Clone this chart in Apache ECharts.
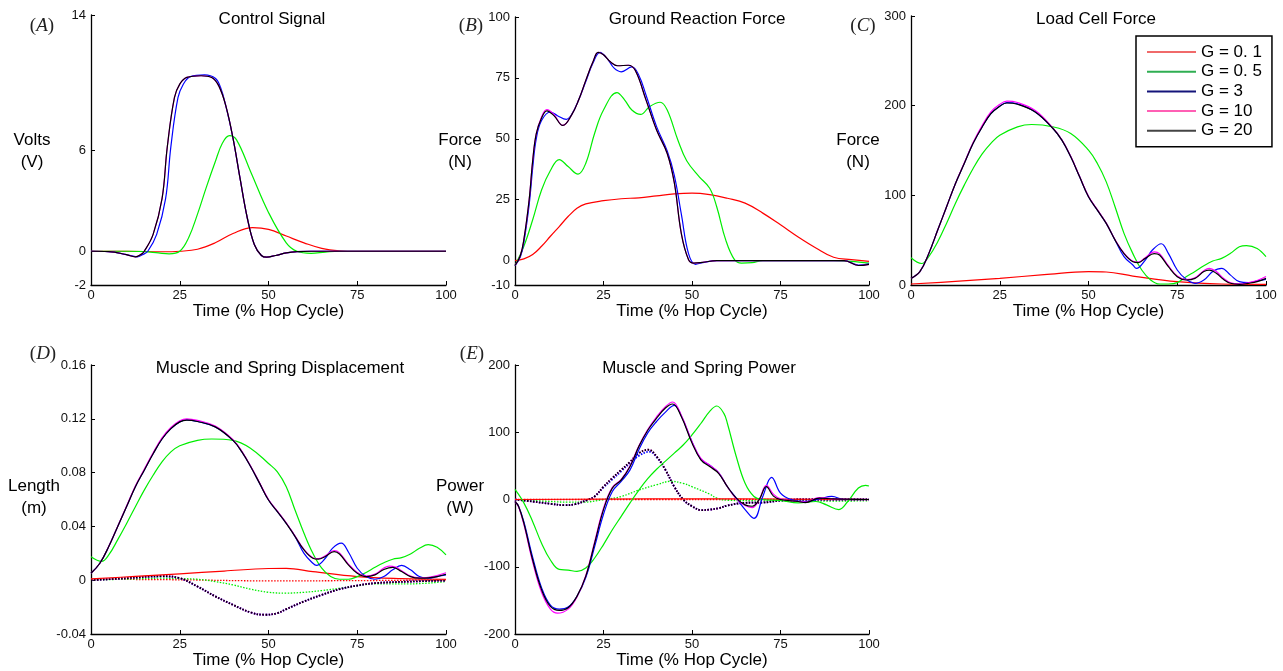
<!DOCTYPE html>
<html>
<head>
<meta charset="utf-8">
<script src="https://cdn.jsdelivr.net/npm/echarts@6/dist/echarts.min.js"></script>
<style>
html,body{margin:0;padding:0;background:#fff;}
#chart{width:1283px;height:671px;}
</style>
</head>
<body>
<div id="chart"></div>
<script>
// ---------------- DATA ----------------
const gNames = ['G = 0. 1', 'G = 0. 5', 'G = 3', 'G = 10', 'G = 20'];
const xTicks = [0, 25, 50, 75, 100];
const aTicks = [-2, 0, 6, 14];
const bTicks = [-10, 0, 25, 50, 75, 100];
const cTicks = [0, 100, 200, 300];
const dTicks = [-0.04, 0, 0.04, 0.08, 0.12, 0.16];
const eTicks = [-200, -100, 0, 100, 200];

// (A) Control Signal  [time %, volts]
const aRed = [[0,0],[10,0],[20,-0.03],[25,0],[30,0.12],[35,0.5],[40,1.05],[45.5,1.4],[50,1.3],[55,0.9],[60,0.5],[65,0.17],[70,0.03],[75,0],[100,0]];
const aGreen = [[0,0],[10,0],[15,-0.02],[19,-0.1],[22,-0.15],[25,0],[27.5,0.8],[30,2.2],[32.5,3.8],[35,5.3],[37,6.4],[39,6.85],[41,6.6],[45,4.7],[50,2.3],[55,0.5],[58,0],[62,-0.12],[66,-0.05],[70,0],[100,0]];
const aBlue = [[0,0],[5,-0.02],[10,-0.2],[13,-0.33],[14.5,-0.2],[16,0],[18.5,1.0],[21,3.1],[22.5,6.2],[24.5,9.1],[26,9.9],[28,10.35],[32,10.45],[35,10.25],[36.5,9.7],[38,8.6],[40,6.7],[42,4.3],[44,2.0],[46,0.4],[48,-0.25],[49.5,-0.35],[52,-0.25],[55,-0.1],[58,-0.02],[62,0],[100,0]];
const aMagenta = [[0,0],[5,-0.02],[10,-0.2],[12.5,-0.33],[14,-0.2],[15,0],[17.5,1.0],[20,3.1],[21.5,6.2],[23.5,9.1],[25,9.9],[27,10.3],[31,10.4],[34,10.3],[36,9.8],[38,8.6],[40,6.7],[42,4.3],[44,2.0],[46,0.4],[48,-0.25],[49.5,-0.35],[52,-0.25],[55,-0.1],[58,-0.02],[62,0],[100,0]];
const aBlack = [[0,0],[5,-0.02],[10,-0.2],[12.5,-0.33],[14,-0.2],[15,0],[17.5,1.0],[20,3.1],[21.5,6.2],[23.5,9.1],[25,9.9],[27,10.3],[31,10.4],[34,10.3],[36,9.8],[38,8.6],[40,6.7],[42,4.3],[44,2.0],[46,0.4],[48,-0.25],[49.5,-0.35],[52,-0.25],[55,-0.1],[58,-0.02],[62,0],[100,0]];

// (B) Ground Reaction Force  [time %, N]
const bRed = [[0,0],[2.5,0.7],[5,2.5],[7.5,5.9],[10,10],[12.5,14],[15,18.1],[17.5,21.5],[20,23.3],[25,24.6],[30,25.4],[35,25.8],[40,26.6],[45,27.4],[50,27.7],[55,27.1],[60,25.6],[65,23.6],[70,19.5],[75,14.7],[80,9.7],[85,5.2],[90,1.4],[95,0.4],[100,-0.3]];
const bGreen = [[0,-2],[2.5,5.9],[5,16.8],[7.5,29],[10,37],[12.5,41.5],[15,38.6],[17.8,35.5],[20,40],[22.5,52.3],[25,61.8],[28.8,69],[31,65.9],[33,61.8],[35.5,60],[38,63.2],[41,65],[43,61.8],[46,49.5],[48.5,41],[52,34.5],[55,29.7],[57,22],[59.5,8.6],[62,0.4],[64,-1],[67,-0.8],[70,0],[90,0],[95,-0.3],[100,-1]];
const bBlue = [[0,-2],[1.5,1.5],[2.5,7.5],[4,23],[5,38],[6,50],[7.5,57.5],[10,61],[12,59.5],[14.5,58],[16,60],[18,66],[20,73.5],[22,81],[24,85.5],[26,83],[28,79],[30,77.5],[33,79.5],[35,76],[37,68],[40,55],[43,45],[45,35],[47,19],[49,3],[51,-1.5],[53,-0.8],[57,0],[93,0],[97,-1.8],[100,-1.3]];
const bMagenta = [[0,-2],[1.5,2],[2.5,8.6],[4,25],[5,41],[6,52],[7.5,59],[9,62],[11,60],[13.5,55.5],[16,59.8],[18,66],[20,74],[22,81.5],[23.5,85.5],[25,84.5],[27,81.5],[29,80],[32,80.2],[34,78],[37,66],[40,53.6],[43,44],[45,32],[47,11],[49,0.5],[50.5,-1],[53,-0.7],[57,0],[93,0],[97,-2],[100,-1.5]];
const bBlack = [[0,-2],[1.5,2],[2.5,8.6],[4,25],[5,41],[6,52],[7.5,58.5],[9,61.5],[11,59.5],[13.5,55.5],[16,59.8],[18,66],[20,74],[22,81.5],[23.5,85.5],[25,84.5],[27,81.5],[29,80],[32,80.2],[34,78],[37,66],[40,53.6],[43,44],[45,32],[47,11],[49,0.5],[50.5,-1],[53,-0.7],[57,0],[93,0],[97,-2],[100,-1.5]];

// (C) Load Cell Force  [time %, N]
const cRed = [[0,1.1],[12.5,4],[25,7.4],[37.5,11.5],[50,14.9],[55,14.5],[62.5,10],[75,3.7],[87.5,1.1],[100,0.7]];
const cGreen = [[0,30.4],[3,24],[5,31.6],[7.5,48],[10,68.7],[12.5,91],[15,111.4],[17.5,130],[20,146],[22.5,158],[25,167],[30,176.4],[34,179],[40,176.4],[45,169],[50,150.4],[52.5,135.5],[55,115],[57.5,87],[60,57.6],[62.5,35],[65,16.7],[67.5,5.6],[70,1.1],[72.5,1.1],[75,2.6],[77.5,9.3],[80,15],[82.5,21.5],[85,26.7],[87.5,29.7],[90,35.3],[92.5,42.7],[94.5,44],[97.5,40.8],[100,31.6]];
const cBlue = [[0,7.4],[2.5,15],[5,35],[7.5,61],[10,87],[12.5,113],[15,135.5],[17.5,158],[20,176],[22.5,191],[25,199.4],[27,203.5],[30,202],[35,193],[40,174.5],[42.5,161.5],[45,143],[47.5,120.7],[50,98.4],[52.5,83.5],[55,68.7],[57.5,50],[60,31.6],[62.5,22.3],[63.5,18.5],[66,27.8],[68,39],[70.5,46],[72.5,35.3],[75,16.7],[77.5,6.3],[80,1.9],[82.5,5.6],[85,15],[87.5,18.6],[90,11],[92.5,3.7],[95,2.6],[97.5,4.5],[100,6.3]];
const cMagenta = [[0,7.4],[2.5,15],[5,35],[7.5,61],[10,87],[12.5,113],[15,136],[17.5,159],[20,177.5],[22.5,193],[25,201.5],[27,205],[30,203.5],[35,194.5],[40,175],[42.5,162],[45,143.5],[47.5,121],[50,99],[52.5,84],[55,69],[57.5,50.5],[60,35.5],[62.5,26.5],[64,25.5],[66,30.5],[68.5,37],[70,35],[72.5,21.5],[75,10],[77.5,6],[80,8],[82.5,16],[84,18.6],[86,15],[88,7.5],[90,2.5],[92.5,1.2],[95,2.5],[97.5,5],[100,9.5]];
const cBlack = [[0,7.4],[2.5,15],[5,35],[7.5,61],[10,87],[12.5,113],[15,135.5],[17.5,158],[20,176],[22.5,191],[25,199.4],[27,203],[30,201.6],[35,193],[40,174.5],[42.5,161.5],[45,143],[47.5,120.7],[50,98.4],[52.5,83.5],[55,68.7],[57.5,50],[60,35],[62.5,26],[64,25],[66,29.7],[68.5,35],[70,33.4],[72.5,20.4],[75,9.3],[77.5,5.6],[80,7.4],[82.5,15],[84,16.7],[86,13],[88,6.3],[90,1.9],[92.5,0.7],[95,1.9],[97.5,3.7],[100,7.4]];

// (D) Muscle (solid) and Spring (dotted) Displacement  [time %, m]
const dRed = [[0,0.001],[12.5,0.0028],[25,0.0047],[37.5,0.0068],[50,0.0087],[55,0.0088],[62.5,0.0064],[75,0.0027],[87.5,0.0012],[100,0.0007]];
const dGreen = [[0,0.0175],[3,0.014],[5,0.0188],[7.5,0.03],[10,0.042],[12.5,0.0546],[15,0.067],[17.5,0.078],[20,0.088],[22.5,0.0954],[25,0.1],[30,0.104],[34,0.105],[40,0.104],[45,0.098],[50,0.0868],[52.5,0.0806],[55,0.0695],[57.5,0.052],[60,0.0349],[62.5,0.02],[65,0.0089],[67.5,0.0027],[70,0.0007],[72.5,0.0007],[75,0.0027],[77.5,0.0057],[80,0.0096],[82.5,0.013],[85,0.0156],[87.5,0.0168],[90,0.0195],[92.5,0.0237],[95,0.0265],[97.5,0.0245],[100,0.0188]];
const dBlue = [[0,0.0052],[2.5,0.0126],[5,0.025],[7.5,0.0398],[10,0.0546],[12.5,0.0695],[15,0.0818],[17.5,0.094],[20,0.105],[22.5,0.1127],[25,0.1177],[27,0.1192],[30,0.118],[35,0.114],[40,0.104],[42.5,0.0954],[45,0.0843],[47.5,0.072],[50,0.0596],[52.5,0.051],[55,0.0423],[57.5,0.0324],[60,0.02],[62.5,0.0126],[63.5,0.011],[66,0.0163],[68,0.0237],[70.5,0.0275],[72.5,0.021],[75,0.0089],[77.5,0.0027],[80,0.0007],[82.5,0.0027],[85,0.0077],[87.5,0.011],[90,0.0077],[92.5,0.0027],[95,0.0015],[97.5,0.0027],[100,0.004]];
const dMagenta = [[0,0.0052],[2.5,0.0126],[5,0.0252],[7.5,0.04],[10,0.055],[12.5,0.07],[15,0.0825],[17.5,0.0948],[20,0.1058],[22.5,0.1135],[25,0.1185],[27,0.12],[30,0.1188],[35,0.1146],[40,0.1045],[42.5,0.0958],[45,0.0847],[47.5,0.0724],[50,0.06],[52.5,0.0514],[55,0.0427],[57.5,0.0328],[60,0.0229],[62.5,0.0167],[64,0.016],[66,0.0182],[68.5,0.022],[70,0.0203],[72.5,0.012],[75,0.0058],[77.5,0.003],[80,0.0045],[82.5,0.009],[84,0.0105],[86,0.0095],[87.5,0.007],[90,0.003],[92.5,0.0018],[95,0.0022],[97.5,0.0035],[100,0.0055]];
const dBlack = [[0,0.0052],[2.5,0.0126],[5,0.025],[7.5,0.0398],[10,0.0546],[12.5,0.0695],[15,0.0818],[17.5,0.094],[20,0.105],[22.5,0.1127],[25,0.1177],[27,0.119],[30,0.118],[35,0.114],[40,0.104],[42.5,0.0954],[45,0.0843],[47.5,0.072],[50,0.0596],[52.5,0.051],[55,0.0423],[57.5,0.0324],[60,0.0225],[62.5,0.0163],[64,0.0156],[66,0.0176],[68.5,0.0213],[70,0.0195],[72.5,0.0114],[75,0.0052],[77.5,0.0027],[80,0.004],[82.5,0.008],[85,0.0096],[87.5,0.0064],[90,0.0027],[92.5,0.0015],[95,0.0017],[97.5,0.0027],[100,0.0044]];
const dRedSpring = [[0,0.0007],[25,0.0003],[50,-0.0005],[75,-0.0003],[100,0.0002]];
const dGreenSpring = [[0,0],[10,0.0008],[20,0.0015],[25,0.0012],[30,0.0007],[35,-0.001],[40,-0.0035],[45,-0.0067],[50,-0.009],[55,-0.0096],[60,-0.009],[65,-0.0077],[70,-0.006],[75,-0.0042],[80,-0.0027],[90,-0.0027],[100,-0.001]];
const dBlueSpring = [[0,0],[10,0.0015],[20,0.0028],[25,0.0014],[30,-0.0047],[35,-0.012],[40,-0.0183],[45,-0.024],[49,-0.0257],[52.5,-0.0245],[55,-0.0215],[60,-0.0158],[65,-0.0109],[70,-0.0067],[75,-0.004],[80,-0.0022],[90,-0.001],[100,-0.0002]];
const dMagentaSpring = [[0,0],[10,0.0015],[20,0.003],[25,0.0015],[30,-0.0047],[35,-0.012],[40,-0.0183],[45,-0.024],[49,-0.0257],[52.5,-0.0245],[55,-0.0215],[60,-0.0158],[65,-0.0109],[70,-0.0067],[75,-0.004],[80,-0.0022],[90,-0.001],[100,-0.0002]];
const dBlackSpring = [[0,0],[10,0.0015],[20,0.003],[25,0.0015],[30,-0.0047],[35,-0.012],[40,-0.0183],[45,-0.024],[49,-0.0257],[52.5,-0.0245],[55,-0.0215],[60,-0.0158],[65,-0.0109],[70,-0.0067],[75,-0.004],[80,-0.0022],[90,-0.001],[100,-0.0002]];

// (E) Muscle (solid) and Spring (dotted) Power  [time %, W]
const eRed = [[0,0],[25,0.5],[50,1],[75,0.5],[100,0]];
const eGreen = [[0,15],[2.5,-5],[5,-33],[7.5,-65],[10,-90],[12.5,-104],[15,-105],[17.5,-107],[20,-102],[22.5,-87],[25,-67],[27.5,-45],[30,-25],[32.5,-5],[35,14],[37.5,31],[40,45],[42.5,57],[45,69],[47.5,81],[50,96],[52.5,113],[55,131],[57,139],[59,128],[60,113],[62.5,64],[65,24],[67.5,4.5],[70,0],[75,-1.5],[80,-5],[85,-3],[88,-8],[91.5,-15],[94,-3],[97,17],[99,21],[100,20]];
const eBlue = [[0,-3],[1,-10],[2.5,-33],[5,-86],[7.5,-131],[10,-157],[12.5,-163],[15,-160],[17.5,-144],[20,-116],[22.5,-70],[25,-22],[27.5,12],[30,27],[32.5,44],[35,74],[37.5,99],[40,116],[42.5,130],[45,140],[47,124],[50,86],[52.5,60],[55,51],[57.5,40],[60,19],[62.5,2],[65,-15],[67.5,-28],[70,4.5],[72.5,33],[75,9.4],[78,0],[82,-3],[86,1],[89.5,4.5],[93,0],[100,0]];
const eMagenta = [[0,-3],[1,-11],[2.5,-37],[5,-93],[7.5,-138],[10,-163],[12,-169],[15,-163],[17.5,-145],[20,-113],[22.5,-63],[25,-13],[27.5,18],[30,30],[32.5,50],[35,80],[37.5,104],[40,123],[42.5,138],[44.5,145],[47,125],[50,86],[52.5,61],[55,51],[57.5,40],[60,19],[62.5,1],[65,-9],[67,-12],[69,0],[71,21],[73,8],[75,1],[80,-3],[82,-4],[86,3],[90,1],[100,0]];
const eBlack = [[0,-3],[1,-10],[2.5,-35],[5,-90],[7.5,-134],[10,-159],[12.5,-165],[15,-161],[17.5,-144],[20,-114],[22.5,-65],[25,-15],[27.5,17],[30,29],[32.5,49],[35,79],[37.5,103],[40,121],[42.5,136],[44.5,142],[47,123],[50,84],[52.5,59],[55,49],[57.5,39],[60,19],[62.5,2],[65,-8],[67,-10],[69,0],[71,19],[73,5],[75,0],[80,-3],[82,-4.5],[86,2],[90,1],[100,0]];
const eRedSpring = [[0,0],[50,0],[100,0]];
const eGreenSpring = [[0,0],[10,-3],[15,-4],[19,-4],[25,0],[30,4.5],[35,14],[40,22],[44,27],[47.5,24],[50,19],[55,8],[57,2],[60,-1],[70,-2],[85,-2.5],[100,-2]];
const eBlueSpring = [[0,0],[5,-3],[10,-6.4],[14,-8.4],[17,-7],[20.7,0],[22.5,4.5],[25,18],[27.5,30],[30,42],[32.5,54],[35,65],[38,71],[40,63],[42.5,44],[45,19],[47.5,0],[50,-10],[52.7,-15.8],[55,-15],[57.5,-13],[60,-9],[65,-5],[70,-4.5],[75,-1.5],[80,0],[100,0]];
const eMagentaSpring = [[0,0],[5,-3],[10,-6.4],[14,-8.4],[17,-7],[20.7,0],[22.5,4.5],[25,19],[27.5,32],[30,44],[32.5,56],[35,69],[37.7,74],[40,64],[42.5,44],[45,19],[47.5,0],[50,-10],[52.7,-15.8],[55,-15],[57.5,-13],[60,-9],[65,-5],[70,-4.5],[75,-1.5],[80,0],[100,0]];
const eBlackSpring = [[0,0],[5,-3],[10,-6.4],[14,-8.4],[17,-7],[20.7,0],[22.5,4.5],[25,19],[27.5,32],[30,44],[32.5,56],[35,69],[37.7,74],[40,64],[42.5,44],[45,19],[47.5,0],[50,-10],[52.7,-15.8],[55,-15],[57.5,-13],[60,-9],[65,-5],[70,-4.5],[75,-1.5],[80,0],[100,0]];

// ---------------- STYLE / LAYOUT ----------------
const lineColors = ['#ff0000', '#00ee00', '#0000ff', '#ff00ff', '#000000'];
const legendColors = ['#f06a6a', '#2fae52', '#14147a', '#ff5fb4', '#444444'];
const FONT = '"Liberation Sans", Arial, Helvetica, sans-serif';
const SERIF = '"Liberation Serif", "DejaVu Serif", serif';

const grids = [
  {left: 91, top: 15, width: 355, height: 270},
  {left: 515, top: 17, width: 354, height: 268},
  {left: 911, top: 16, width: 355, height: 269},
  {left: 91, top: 365, width: 355, height: 269},
  {left: 515, top: 365, width: 354, height: 269}
];
const yRanges = [[-2, 14, aTicks], [-10, 100, bTicks], [0, 300, cTicks], [-0.04, 0.16, dTicks], [-200, 200, eTicks]];

const axisLine = {show: true, onZero: false, lineStyle: {color: '#000', width: 1.3}};
const axisTick = {show: true, inside: true, length: 4, lineStyle: {color: '#000', width: 1}};

const xAxes = grids.map((g, i) => ({
  type: 'value', gridIndex: i, min: 0, max: 100, interval: 25,
  axisLine, axisTick, splitLine: {show: false},
  axisLabel: {fontFamily: FONT, fontSize: 13, color: '#111', margin: 4},
  name: 'Time (% Hop Cycle)', nameLocation: 'middle', nameGap: 17,
  nameTextStyle: {fontFamily: FONT, fontSize: 17, color: '#000'}
}));

function fmtD(v) {
  const r = Math.round(v * 100) / 100;
  return r === 0 ? '0' : r.toFixed(2);
}

const yAxes = yRanges.map((r, i) => ({
  type: 'value', gridIndex: i, min: r[0], max: r[1],
  axisLine, splitLine: {show: false},
  axisTick: Object.assign({}, axisTick, {customValues: r[2]}),
  axisLabel: {fontFamily: FONT, fontSize: 13, color: '#111', margin: 5, customValues: r[2],
    formatter: i === 3 ? fmtD : (v => String(Math.round(v)))}
}));

const panelSets = [
  {solid: [aRed, aGreen, aBlue, aMagenta, aBlack]},
  {solid: [bRed, bGreen, bBlue, bMagenta, bBlack]},
  {solid: [cRed, cGreen, cBlue, cMagenta, cBlack]},
  {solid: [dRed, dGreen, dBlue, dMagenta, dBlack], dotted: [dRedSpring, dGreenSpring, dBlueSpring, dMagentaSpring, dBlackSpring]},
  {solid: [eRed, eGreen, eBlue, eMagenta, eBlack], dotted: [eRedSpring, eGreenSpring, eBlueSpring, eMagentaSpring, eBlackSpring]}
];

const series = [];
panelSets.forEach((p, gi) => {
  if (p.dotted) {
    p.dotted.forEach((d, k) => series.push({
      type: 'line', name: gNames[k], xAxisIndex: gi, yAxisIndex: gi, data: d,
      smooth: 0.4, symbol: 'none', silent: true,
      lineStyle: {color: lineColors[k], width: k >= 2 ? 1.8 : 1.3, type: [1.5, 1.5]}
    }));
  }
  p.solid.forEach((d, k) => series.push({
    type: 'line', name: gNames[k], xAxisIndex: gi, yAxisIndex: gi, data: d,
    smooth: 0.4, symbol: 'none', silent: true,
    lineStyle: {color: lineColors[k], width: 1.2}
  }));
});

const titles = [
  {text: 'Control Signal', x: 272, y: 11},
  {text: 'Ground Reaction Force', x: 697, y: 11},
  {text: 'Load Cell Force', x: 1096, y: 11},
  {text: 'Muscle and Spring Displacement', x: 280, y: 360},
  {text: 'Muscle and Spring Power', x: 699, y: 360}
].map(t => ({text: t.text, left: t.x, top: t.y, textAlign: 'center', padding: 0,
  textStyle: {fontFamily: FONT, fontSize: 17, fontWeight: 'normal', color: '#000'}}));

const yNames = [
  {t: 'Volts', u: '(V)', x: 32, y: 140},
  {t: 'Force', u: '(N)', x: 460, y: 140},
  {t: 'Force', u: '(N)', x: 858, y: 140},
  {t: 'Length', u: '(m)', x: 34, y: 486},
  {t: 'Power', u: '(W)', x: 460, y: 486}
];
const panelLetters = [
  {l: 'A', x: 42, y: 26}, {l: 'B', x: 471, y: 26}, {l: 'C', x: 863, y: 26},
  {l: 'D', x: 43, y: 354}, {l: 'E', x: 472, y: 354}
];

const graphics = [];
yNames.forEach(n => {
  graphics.push({type: 'text', x: n.x, y: n.y, style: {text: n.t, font: '17px ' + FONT, fill: '#000', align: 'center', verticalAlign: 'middle'}});
  graphics.push({type: 'text', x: n.x, y: n.y + 22, style: {text: n.u, font: '17px ' + FONT, fill: '#000', align: 'center', verticalAlign: 'middle'}});
});
panelLetters.forEach(p => {
  graphics.push({type: 'text', x: p.x, y: p.y, style: {
    text: '{p|(}{l|' + p.l + '}{p|)}', align: 'center', verticalAlign: 'middle',
    rich: {
      p: {fontFamily: SERIF, fontSize: 19, fill: '#222', color: '#222'},
      l: {fontFamily: SERIF, fontSize: 19, fontStyle: 'italic', fill: '#222', color: '#222'}
    }
  }});
});

const chart = echarts.init(document.getElementById('chart'), null, {renderer: 'canvas'});
chart.setOption({
  animation: false,
  backgroundColor: '#fff',
  title: titles,
  grid: grids.map(g => Object.assign({containLabel: false}, g)),
  xAxis: xAxes,
  yAxis: yAxes,
  legend: {
    left: 1136, top: 36, orient: 'vertical',
    padding: [7, 10, 7, 11],
    itemWidth: 49, itemHeight: 2, itemGap: 1.7,
    borderColor: '#000', borderWidth: 1.5, backgroundColor: '#fff',
    selectedMode: false,
    textStyle: {fontFamily: FONT, fontSize: 17, color: '#000', lineHeight: 18},
    data: gNames.map((n, k) => ({name: n, icon: 'rect', itemStyle: {color: legendColors[k], borderWidth: 0}}))
  },
  graphic: graphics,
  series: series
});
</script>
</body>
</html>
